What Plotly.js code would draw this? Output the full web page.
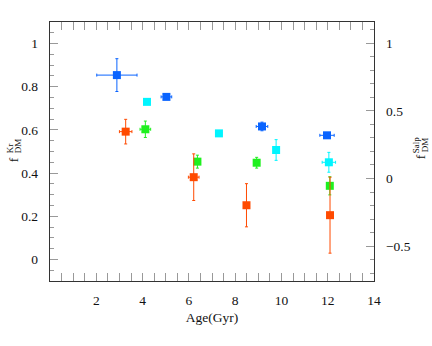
<!DOCTYPE html>
<html>
<head>
<meta charset="utf-8">
<script src="https://cdn.plot.ly/plotly-3.0.1.min.js"></script>
<style>html,body{margin:0;padding:0;background:#fff;}#chart{width:432px;height:346px;}</style>
</head>
<body>
<div id="chart"></div>
<script>
// Blue series
const blueAge = [2.89, 5.03, 9.16, 11.97];
const blueF = [0.854, 0.753, 0.616, 0.575];
const blueAgeErr = [0.87, 0.23, 0.25, 0.31];
const blueFErr = [0.076, 0.012, 0.02, 0.008];
// Cyan series
const cyanAge = [4.19, 7.30, 9.77, 12.05];
const cyanF = [0.730, 0.584, 0.507, 0.450];
const cyanAgeErr = [0.08, 0.12, 0.05, 0.29];
const cyanFErr = [0.008, 0.010, 0.048, 0.046];
// Green series
const greenAge = [4.12, 6.37, 8.93, 12.09];
const greenF = [0.603, 0.453, 0.448, 0.341];
const greenAgeErr = [0.23, 0.08, 0.1, 0.05];
const greenFErr = [0.038, 0.030, 0.025, 0.042];
// Orange series
const orangeAge = [3.27, 6.21, 8.49, 12.10];
const orangeF = [0.592, 0.381, 0.251, 0.205];
const orangeAgeErr = [0.27, 0.23, 0.05, 0.05];
const orangeFErr = [0.057, 0.108, 0.100, 0.176];

const xTicks = [2, 4, 6, 8, 10, 12, 14];
const yTicks = [0, 0.2, 0.4, 0.6, 0.8, 1];
const yLabels = ['0', '0.2', '0.4', '0.6', '0.8', '1'];
const y2Ticks = [-0.5, 0, 0.5, 1];
const y2Labels = ['\u22120.5', '0', '0.5', '1'];

function series(x, y, ex, ey, color) {
  return {
    x: x, y: y, type: 'scatter', mode: 'markers',
    marker: {symbol: 'square', size: 8, color: color},
    error_x: {type: 'data', array: ex, visible: true, color: color, thickness: 1, width: 1.5},
    error_y: {type: 'data', array: ey, visible: true, color: color, thickness: 1, width: 1.5},
    showlegend: false, hoverinfo: 'none'
  };
}

const data = [
  series(blueAge, blueF, blueAgeErr, blueFErr, '#0a64ff'),
  series(cyanAge, cyanF, cyanAgeErr, cyanFErr, '#00f5ff'),
  series(greenAge, greenF, greenAgeErr, greenFErr, '#1ef01e'),
  series(orangeAge, orangeF, orangeAgeErr, orangeFErr, '#ff4a00'),
  {x: [], y: [], yaxis: 'y2', type: 'scatter', mode: 'markers', showlegend: false, hoverinfo: 'none'}
];

const serif = 'Liberation Serif';
const L = 50.4, BOT = 281.3;

function ann(text, px, py, size) {
  return {text: text, xref: 'paper', yref: 'paper', x: 0, y: 0,
    xshift: px - L, yshift: BOT - py, showarrow: false, textangle: -90,
    font: {family: serif, size: size, color: '#111'}, xanchor: 'center', yanchor: 'middle'};
}

const tf = {family: serif, size: 13.5, color: '#111'};

const layout = {
  width: 432, height: 346,
  margin: {l: 50.4, r: 57.7, t: 22.3, b: 64.7},
  paper_bgcolor: '#fff', plot_bgcolor: '#fff',
  font: tf,
  xaxis: {
    range: [0, 14], tickvals: xTicks, ticks: 'inside', ticklen: 8, tickcolor: '#999', tickwidth: 1,
    showline: true, linecolor: '#333', linewidth: 1.3, mirror: 'allticks', showgrid: false, zeroline: false,
    minor: {dtick: 0.5, tick0: 0, ticks: 'inside', ticklen: 4, tickcolor: '#999', showgrid: false},
    ticklabelstandoff: 6, tickfont: tf,
    title: {text: 'Age(Gyr)', font: tf, standoff: 6}
  },
  yaxis: {
    range: [-0.1, 1.1], tickvals: yTicks, ticktext: yLabels,
    ticks: 'inside', ticklen: 8, tickcolor: '#999', tickwidth: 1,
    showline: true, linecolor: '#333', linewidth: 1.3, showgrid: false, zeroline: false,
    minor: {dtick: 0.05, tick0: 0, ticks: 'inside', ticklen: 4, tickcolor: '#999', showgrid: false},
    ticklabelstandoff: 8, tickfont: tf
  },
  yaxis2: {
    overlaying: 'y', side: 'right', range: [-0.758, 1.157], tickvals: y2Ticks, ticktext: y2Labels,
    ticks: 'inside', ticklen: 8, tickcolor: '#999', tickwidth: 1,
    showline: true, linecolor: '#333', linewidth: 1.3, showgrid: false, zeroline: false,
    minor: {dtick: 0.1, tick0: 0, ticks: 'inside', ticklen: 4, tickcolor: '#999', showgrid: false},
    ticklabelstandoff: 8, tickfont: tf
  },
  annotations: [
    ann('f', 14, 160, 13.5), ann('Kr', 10, 149, 9), ann('DM', 18, 146, 9),
    ann('f', 421, 157, 13.5), ann('Salp', 416, 145, 9), ann('DM', 425, 145, 9)
  ]
};

Plotly.newPlot('chart', data, layout, {staticPlot: true, displayModeBar: false});
</script>
</body>
</html>
